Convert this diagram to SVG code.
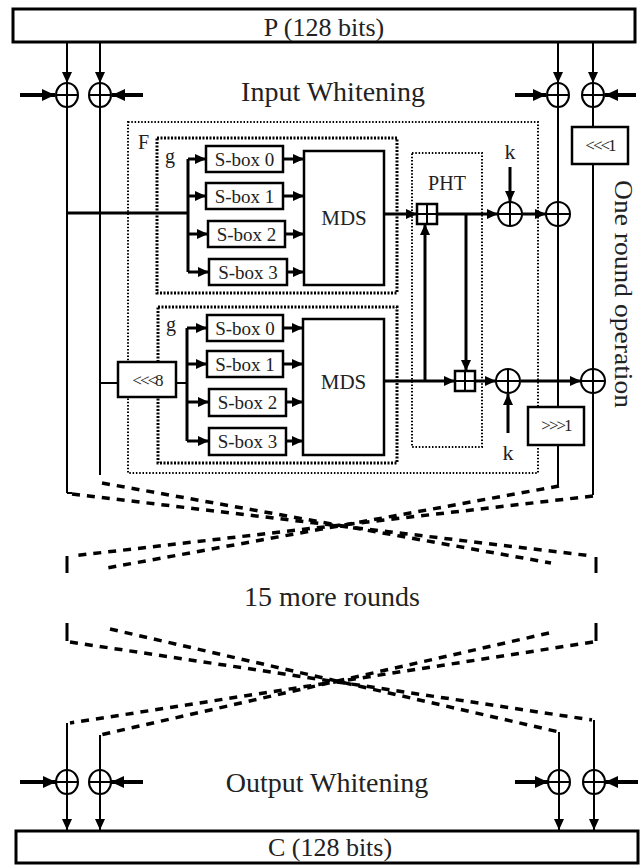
<svg xmlns="http://www.w3.org/2000/svg" xmlns:xlink="http://www.w3.org/1999/xlink" width="642" height="865" viewBox="0 0 642 865">
<style>
.ln{stroke:#000;stroke-width:2;fill:none}
.md{stroke:#000;stroke-width:3;fill:none}
.th{stroke:#000;stroke-width:4;fill:none}
.box{fill:#fff;stroke:#000;stroke-width:2.5}
.bigbox{fill:#fff;stroke:#000;stroke-width:3}
.fdot{fill:none;stroke:#000;stroke-width:2;stroke-dasharray:1.5 1.8}
.gdot{fill:none;stroke:#000;stroke-width:3;stroke-dasharray:2 1.5}
.dash{fill:none;stroke:#000;stroke-width:3.5;stroke-dasharray:8 7}
.t{font-family:"Liberation Serif","Times New Roman",serif;fill:#222}
.xc{fill:#fff;stroke:#000;stroke-width:2}
.a{marker-end:url(#ah)}
.ab{marker-end:url(#ahb)}
</style>
<defs>
<marker id="ah" markerUnits="userSpaceOnUse" markerWidth="11" markerHeight="10" refX="11" refY="5" orient="auto"><path d="M0,0 L11,5 L0,10 z" fill="#000"/></marker>
<marker id="ahb" markerUnits="userSpaceOnUse" markerWidth="13" markerHeight="12" refX="13" refY="6" orient="auto"><path d="M0,0 L13,6 L0,12 z" fill="#000"/></marker>
<g id="xor"><circle class="xc" r="12"/><path class="ln" d="M-12,0H12M0,-12V12"/></g>
<g id="xors"><ellipse class="xc" rx="11" ry="12"/><path class="ln" d="M-11,0H11M0,-12V12"/></g>
<g id="sq"><rect class="box" x="-10" y="-10" width="20" height="20" stroke-width="2"/><path class="ln" d="M-10,0H10M0,-10V10"/></g>
</defs>

<g id="connectors">
<!-- main verticals -->
<path class="ln" d="M67,42V493M100,42V475M558,42V485M593,42V495"/>
<!-- input whitening arrows -->
<path class="ln a" d="M67,42V83"/>
<path class="ln a" d="M100,42V83"/>
<path class="ln a" d="M558,42V83"/>
<path class="ln a" d="M593,42V83"/>
<path class="th ab" d="M20,95H55"/>
<path class="th ab" d="M143,95H112"/>
<path class="th ab" d="M515,95H546"/>
<path class="th ab" d="M636,95H605"/>
<!-- top F branch -->
<path class="md" d="M67,213H188M188,159V272"/>
<path class="md a" d="M188,159H206"/>
<path class="md a" d="M188,196H206"/>
<path class="md a" d="M188,234H208"/>
<path class="md a" d="M188,272H209"/>
<path class="md a" d="M283,159H304"/>
<path class="md a" d="M283,196H304"/>
<path class="md a" d="M285,234H304"/>
<path class="md a" d="M287,272H304"/>
<path class="md a" d="M384,214H417"/>
<path class="md a" d="M437,214H498"/>
<path class="md a" d="M522,214H546"/>
<path class="md a" d="M510,167V202"/>
<path class="md a" d="M466,214V371"/>
<path class="md a" d="M425,381V224"/>
<!-- bottom F branch -->
<path class="ln" d="M100,383H118M176,383H187"/>
<path class="md" d="M187,328V441"/>
<path class="md a" d="M187,328H207"/>
<path class="md a" d="M187,364H207"/>
<path class="md a" d="M187,402H209"/>
<path class="md a" d="M187,441H209"/>
<path class="md a" d="M283,328H303"/>
<path class="md a" d="M283,364H303"/>
<path class="md a" d="M286,402H303"/>
<path class="md a" d="M286,441H303"/>
<path class="md a" d="M384,381H455"/>
<path class="md a" d="M475,381H496"/>
<path class="md a" d="M521,381H581"/>
<path class="md a" d="M508,433V394"/>
<!-- crossing (top) -->
<path class="ln" d="M67,493H72"/>
<path class="dash" d="M72,494L592,556"/>
<path class="dash" d="M102,483L551,563"/>
<path class="dash" d="M559,486L107,568"/>
<path class="dash" d="M593,496L72,556"/>
<path class="md" d="M67,556V573M596,557V573"/>
<!-- crossing (bottom) -->
<path class="md" d="M67,623V641M596,623V641"/>
<path class="dash" d="M70,642L592,720"/>
<path class="dash" d="M110,629L559,732"/>
<path class="dash" d="M593,642L70,723"/>
<path class="dash" d="M549,633L100,735"/>
<!-- output verticals -->
<path class="ln" d="M67,723V782M100,735V782M559,732V782M594,720V782"/>
<path class="ln a" d="M67,782V830"/>
<path class="ln a" d="M100,782V830"/>
<path class="ln a" d="M559,782V830"/>
<path class="ln a" d="M594,782V830"/>
<path class="th ab" d="M20,782H56"/>
<path class="th ab" d="M143,782H111"/>
<path class="th ab" d="M515,782H548"/>
<path class="th ab" d="M638,782H605"/>
</g>

<g id="P"><rect class="bigbox" x="13" y="9" width="622" height="33"/><text class="t" x="324" y="36" font-size="26" text-anchor="middle">P (128 bits)</text></g>
<g id="C"><rect class="bigbox" x="16" y="831" width="622" height="32"/><text class="t" x="330" y="856" font-size="26" text-anchor="middle">C (128 bits)</text></g>

<g id="input-whitening">
<use xlink:href="#xors" x="67" y="95"/><use xlink:href="#xors" x="100" y="95"/>
<use xlink:href="#xors" x="558" y="95"/><use xlink:href="#xors" x="593" y="95"/>
<text class="t" x="333" y="101" font-size="28" text-anchor="middle">Input Whitening</text>
</g>

<g id="F">
<rect class="fdot" x="128" y="122" width="410" height="351"/>
<text class="t" x="138" y="149" font-size="20">F</text>
</g>
<g id="g-top">
<rect class="gdot" x="157" y="138" width="240" height="155"/>
<text class="t" x="165" y="163" font-size="20">g</text>
</g>
<g id="g-bottom">
<rect class="gdot" x="158" y="307" width="239" height="156"/>
<text class="t" x="166" y="331" font-size="20">g</text>
</g>
<g id="PHT">
<rect class="fdot" x="412" y="153" width="70" height="294"/>
<text class="t" x="447" y="190" font-size="20" text-anchor="middle">PHT</text>
</g>

<g id="sbox0-top"><rect class="box" x="206" y="146" width="77" height="26"/><text class="t" x="244.5" y="165.5" font-size="19" text-anchor="middle">S-box 0</text></g>
<g id="sbox1-top"><rect class="box" x="206" y="183" width="77" height="26"/><text class="t" x="244.5" y="202.5" font-size="19" text-anchor="middle">S-box 1</text></g>
<g id="sbox2-top"><rect class="box" x="208" y="221" width="77" height="26"/><text class="t" x="246.5" y="240.5" font-size="19" text-anchor="middle">S-box 2</text></g>
<g id="sbox3-top"><rect class="box" x="209" y="259" width="78" height="26"/><text class="t" x="248" y="278.5" font-size="19" text-anchor="middle">S-box 3</text></g>
<g id="mds-top"><rect class="box" x="304" y="151" width="80" height="134"/><text class="t" x="344" y="225" font-size="21" text-anchor="middle">MDS</text></g>

<g id="sbox0-bot"><rect class="box" x="207" y="315" width="76" height="26"/><text class="t" x="245" y="334.5" font-size="19" text-anchor="middle">S-box 0</text></g>
<g id="sbox1-bot"><rect class="box" x="207" y="351" width="76" height="26"/><text class="t" x="245" y="370.5" font-size="19" text-anchor="middle">S-box 1</text></g>
<g id="sbox2-bot"><rect class="box" x="209" y="389" width="77" height="27"/><text class="t" x="247.5" y="409" font-size="19" text-anchor="middle">S-box 2</text></g>
<g id="sbox3-bot"><rect class="box" x="209" y="428" width="77" height="27"/><text class="t" x="247.5" y="448" font-size="19" text-anchor="middle">S-box 3</text></g>
<g id="mds-bot"><rect class="box" x="303" y="319" width="81" height="136"/><text class="t" x="343.5" y="389" font-size="21" text-anchor="middle">MDS</text></g>

<g id="rot8"><rect class="box" x="118" y="362" width="58" height="35"/><text class="t" x="147" y="386" font-size="17" text-anchor="middle" letter-spacing="-2">&lt;&lt;&lt;8</text></g>
<g id="rotl1"><rect class="box" x="572" y="127" width="56" height="37"/><text class="t" x="600" y="151" font-size="17" text-anchor="middle" letter-spacing="-2">&lt;&lt;&lt;1</text></g>
<g id="rotr1"><rect class="box" x="528" y="407" width="56" height="38"/><text class="t" x="556" y="431" font-size="17" text-anchor="middle" letter-spacing="-2">&gt;&gt;&gt;1</text></g>

<g id="pht-add-top"><use xlink:href="#sq" x="427" y="214"/></g>
<g id="pht-add-bot"><use xlink:href="#sq" x="465" y="381"/></g>
<g id="xor-k-top"><use xlink:href="#xor" x="510" y="214"/><text class="t" x="510" y="159" font-size="22" text-anchor="middle">k</text></g>
<g id="xor-right-top"><use xlink:href="#xor" x="558" y="214"/></g>
<g id="xor-k-bot"><use xlink:href="#xor" x="508" y="381"/><text class="t" x="508" y="460" font-size="22" text-anchor="middle">k</text></g>
<g id="xor-right-bot"><use xlink:href="#xor" x="593" y="381"/></g>

<g id="one-round"><text class="t" transform="translate(615,294) rotate(90)" font-size="26" text-anchor="middle" textLength="228" lengthAdjust="spacingAndGlyphs">One round operation</text></g>
<g id="more-rounds"><text class="t" x="332" y="606" font-size="28" text-anchor="middle">15 more rounds</text></g>

<g id="output-whitening">
<use xlink:href="#xors" x="67" y="782"/><use xlink:href="#xors" x="100" y="782"/>
<use xlink:href="#xors" x="559" y="782"/><use xlink:href="#xors" x="594" y="782"/>
<text class="t" x="327" y="792" font-size="28" text-anchor="middle">Output Whitening</text>
</g>
</svg>
